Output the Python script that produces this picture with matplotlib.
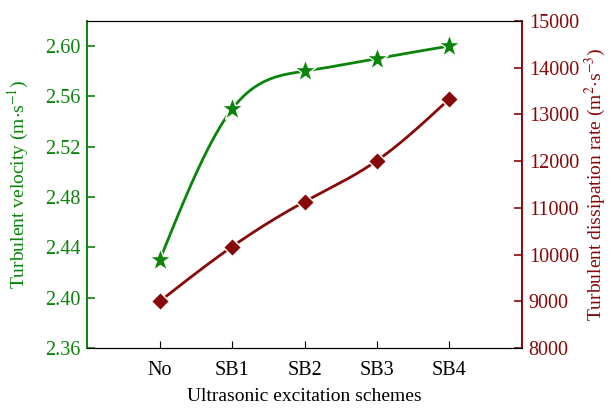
import numpy as np
import matplotlib
matplotlib.use('Agg')
import matplotlib.pyplot as plt

plt.rcParams['font.family'] = ['Liberation Serif', 'DejaVu Serif']
plt.rcParams['mathtext.fontset'] = 'stix'

schemes = ['No', 'SB1', 'SB2', 'SB3', 'SB4']
velocity = [2.43, 2.55, 2.58, 2.59, 2.60]
dissipation = [9000, 10170, 11130, 12010, 13330]

green = '#0a840a'
dark_red = '#880808'


def natural_spline(x, y, n=200):
    # natural cubic spline through the points, just for a smooth line
    x = np.asarray(x, float)
    y = np.asarray(y, float)
    k = len(x)
    h = np.diff(x)
    A = np.zeros((k, k))
    b = np.zeros(k)
    A[0, 0] = A[-1, -1] = 1
    for i in range(1, k - 1):
        A[i, i - 1] = h[i - 1]
        A[i, i] = 2 * (h[i - 1] + h[i])
        A[i, i + 1] = h[i]
        b[i] = 3 * ((y[i + 1] - y[i]) / h[i] - (y[i] - y[i - 1]) / h[i - 1])
    c = np.linalg.solve(A, b)
    xs = np.linspace(x[0], x[-1], n)
    ys = np.empty_like(xs)
    for j, xv in enumerate(xs):
        i = min(np.searchsorted(x, xv, side='right') - 1, k - 2)
        bi = (y[i + 1] - y[i]) / h[i] - h[i] * (2 * c[i] + c[i + 1]) / 3
        di = (c[i + 1] - c[i]) / (3 * h[i])
        t = xv - x[i]
        ys[j] = y[i] + bi * t + c[i] * t ** 2 + di * t ** 3
    return xs, ys


x = np.arange(len(schemes))

fig, ax1 = plt.subplots(figsize=(6.11, 4.08), dpi=100)
fig.subplots_adjust(left=0.143, right=0.854, top=0.949, bottom=0.147)
ax2 = ax1.twinx()

xs, ys = natural_spline(x, velocity)
ax1.plot(xs, ys, color=green, lw=2, zorder=2)
ax1.plot(x, velocity, ls='none', marker='*', ms=17, color=green,
         markeredgecolor='white', markeredgewidth=1.0, zorder=3)

xs, ys = natural_spline(x, dissipation)
ax2.plot(xs, ys, color=dark_red, lw=2, zorder=2)
ax2.plot(x, dissipation, ls='none', marker='D', ms=9, color=dark_red,
         markeredgecolor='white', markeredgewidth=1.0, zorder=3)

ax1.set_xlim(-1, 5)
ax1.set_xticks(x)
ax1.set_xticklabels(schemes)
ax1.set_ylim(2.36, 2.62)
ax1.set_yticks(np.arange(2.36, 2.61, 0.04))
ax1.yaxis.set_major_formatter(matplotlib.ticker.FormatStrFormatter('%.2f'))
ax2.set_ylim(8000, 15000)
ax2.set_yticks(np.arange(8000, 15001, 1000))

ax1.tick_params(axis='x', direction='in', length=5, labelsize=14.5, colors='black', pad=9)
ax1.tick_params(axis='y', direction='in', length=6, labelsize=14.5, colors=green, width=1.2, pad=5)
ax2.tick_params(axis='y', direction='in', length=6, labelsize=14.5, colors=dark_red, width=1.2, pad=5)

for a in (ax1, ax2):
    a.spines['left'].set_color(green)
    a.spines['right'].set_color(dark_red)
    a.spines['left'].set_linewidth(1.2)
    a.spines['right'].set_linewidth(1.2)

ax1.set_xlabel('Ultrasonic excitation schemes', fontsize=14, labelpad=6)
ax1.set_ylabel(r'Turbulent velocity (m$\cdot$s$^{-1}$)', fontsize=14, color=green, labelpad=10)
ax2.set_ylabel(r'Turbulent dissipation rate (m$^{2}$$\cdot$s$^{-3}$)', fontsize=14, color=dark_red, labelpad=3)

plt.savefig('out.png', dpi=100)
